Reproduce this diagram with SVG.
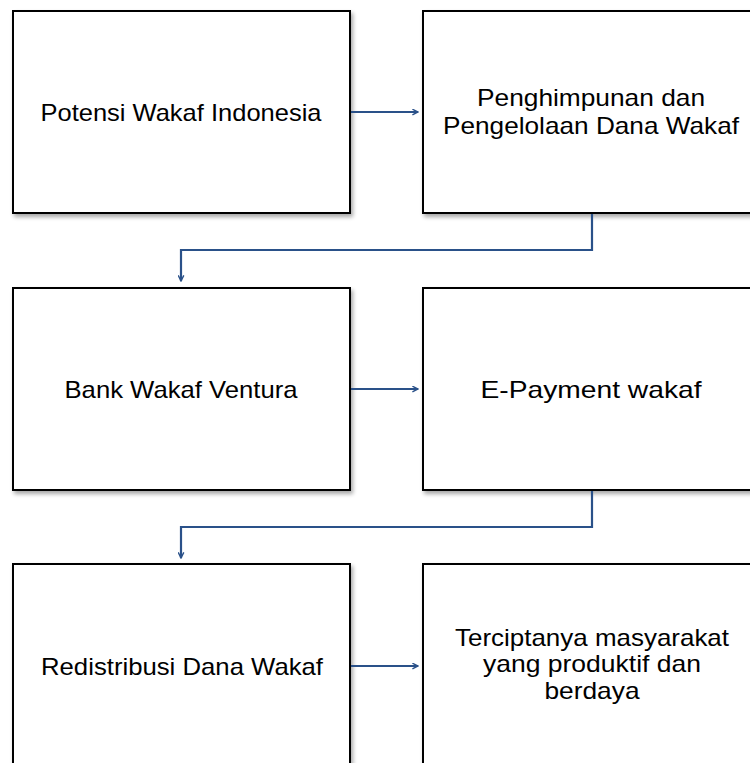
<svg xmlns="http://www.w3.org/2000/svg" width="750" height="763" viewBox="0 0 750 763">
<defs>
<filter id="sh" x="-5%" y="-5%" width="115%" height="115%">
<feGaussianBlur in="SourceAlpha" stdDeviation="2"/>
<feOffset dx="2" dy="3" result="b"/>
<feComponentTransfer><feFuncA type="linear" slope="0.35"/></feComponentTransfer>
<feMerge><feMergeNode/><feMergeNode in="SourceGraphic"/></feMerge>
</filter>
<marker id="ah" viewBox="0 0 10 10" refX="9" refY="5" markerWidth="7" markerHeight="7" markerUnits="userSpaceOnUse" orient="auto">
<path d="M1,1 L9,5 L1,9" fill="none" stroke="#2a5189" stroke-width="2"/>
</marker>
</defs>
<style>
.box{fill:#fff;stroke:#000;stroke-width:2;filter:url(#sh)}
.t{font-family:"Liberation Sans","Open Sans",sans-serif;font-size:24px;fill:#000;text-anchor:middle}
.c{fill:none;stroke:#2a5189;stroke-width:2.2;marker-end:url(#ah)}
</style>
<rect width="750" height="763" fill="#fff"/>
<g id="n1"><rect class="box" x="13" y="11" width="337" height="202"/><text class="t" x="181" y="121" textLength="281" lengthAdjust="spacingAndGlyphs">Potensi Wakaf Indonesia</text></g>
<g id="n2"><rect class="box" x="423" y="11" width="338" height="202"/><text class="t" x="591" y="106" textLength="228" lengthAdjust="spacingAndGlyphs">Penghimpunan dan</text><text class="t" x="591" y="134" textLength="296" lengthAdjust="spacingAndGlyphs">Pengelolaan Dana Wakaf</text></g>
<g id="n3"><rect class="box" x="13" y="288" width="337" height="202"/><text class="t" x="181" y="398" textLength="233" lengthAdjust="spacingAndGlyphs">Bank Wakaf Ventura</text></g>
<g id="n4"><rect class="box" x="423" y="288" width="338" height="202"/><text class="t" x="591" y="398" textLength="221" lengthAdjust="spacingAndGlyphs">E-Payment wakaf</text></g>
<g id="n5"><rect class="box" x="13" y="564" width="337" height="210"/><text class="t" x="182" y="675" textLength="282" lengthAdjust="spacingAndGlyphs">Redistribusi Dana Wakaf</text></g>
<g id="n6"><rect class="box" x="423" y="564" width="338" height="210"/><text class="t" x="592" y="646" textLength="274" lengthAdjust="spacingAndGlyphs">Terciptanya masyarakat</text><text class="t" x="592" y="672" textLength="218" lengthAdjust="spacingAndGlyphs">yang produktif dan</text><text class="t" x="592" y="699" textLength="95" lengthAdjust="spacingAndGlyphs">berdaya</text></g>
<g id="connectors">
<path class="c" d="M351,112 H418"/>
<path class="c" d="M351,389 H418"/>
<path class="c" d="M351,666 H418"/>
<path class="c" d="M592,214 V250 H181 V281"/>
<path class="c" d="M592,491 V527 H181 V558"/>
</g>
</svg>
